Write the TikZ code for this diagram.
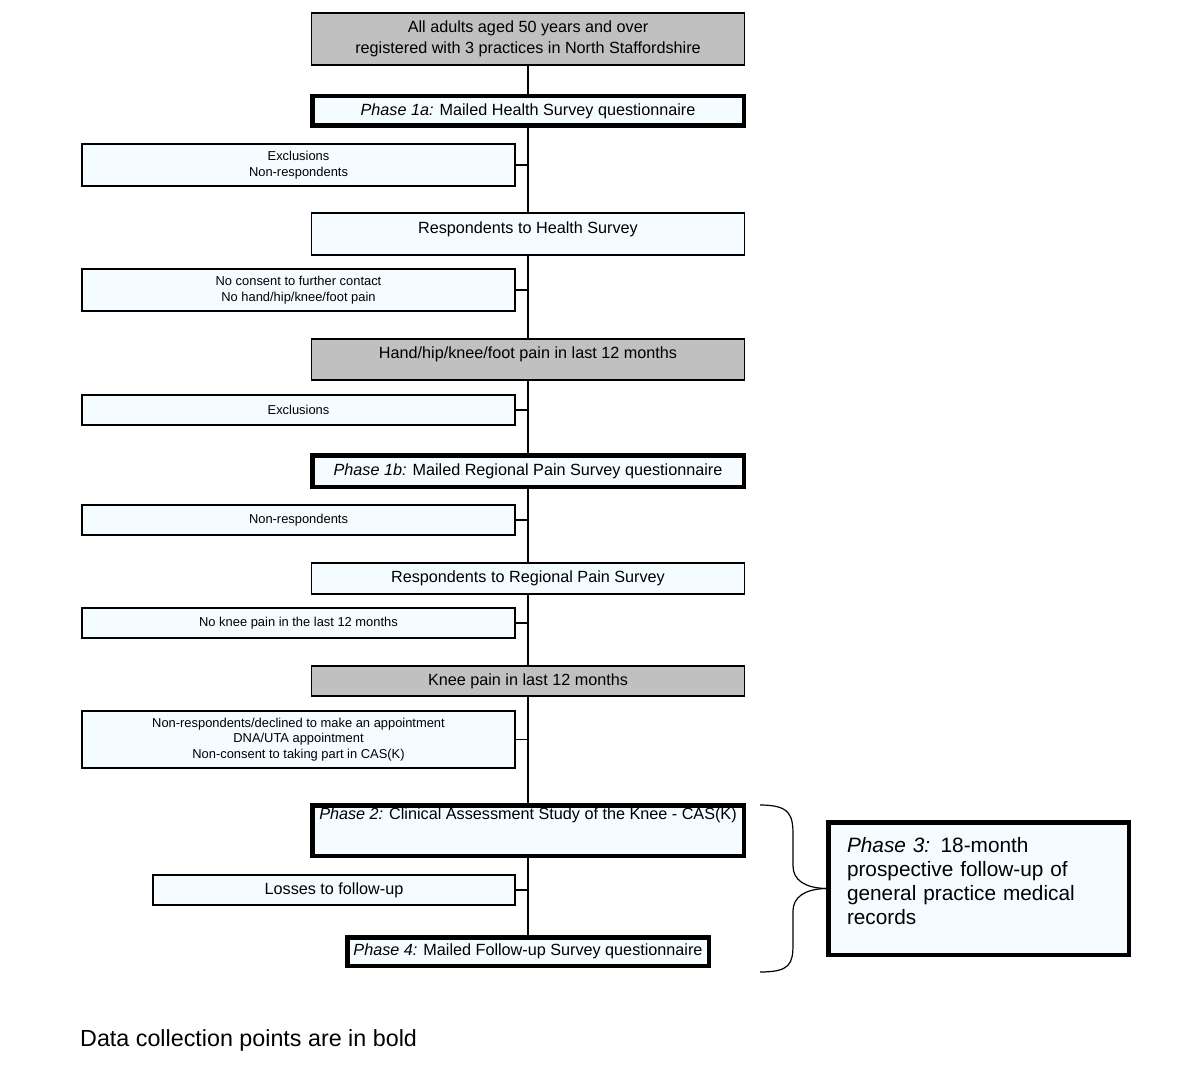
\documentclass[tikz,border=0pt]{standalone}
\usepackage{fontspec}
\setmainfont{Liberation Sans}
\usetikzlibrary{calc}
\definecolor{paleblue}{HTML}{F5FCFF}
\definecolor{midgrey}{HTML}{C0C0C0}
\tikzset{
	stage/.style={draw, line width=1.2pt, fill=paleblue, minimum width=433pt, minimum height=42pt, font=\fontsize{16.2}{21}\selectfont, align=center, inner sep=2pt},
	shaded/.style={stage, fill=midgrey},
	collect/.style={stage, line width=4.5pt, minimum width=431.5pt},
	drop/.style={draw, line width=1.2pt, fill=paleblue, minimum width=433pt, minimum height=30pt, font=\fontsize{12.9}{15.7}\selectfont, align=center, inner sep=2pt},
	lift/.style={text depth=#1},
	link/.style={line width=1.2pt},
}

\begin{document}
\begin{tikzpicture}[x=1pt, y=-1pt]
			%%%%% START %%%%%
			
			\useasboundingbox (0, 0) rectangle (1195, 1078);
			
			\node[shaded, minimum height=52pt] (all) at (528, 39) {All adults aged 50 years and over\\registered with 3 practices in North Staffordshire};
			\node[collect, minimum height=29.5pt] (ph1a) at (528, 111) {{\itshape Phase 1a:} Mailed Health Survey questionnaire};
			\node[drop, minimum height=42pt] (excl1) at (298.5, 165) {Exclusions\\Non-respondents};
			\node[stage, lift=12pt] (respHS) at (528, 234) {Respondents to Health Survey};
			\node[drop, minimum height=42pt] (nocons) at (298.5, 290) {No consent to further contact\\No hand/hip/knee/foot pain};
			\node[shaded, minimum height=41pt, lift=13pt] (pain) at (528, 359.5) {Hand/hip/knee/foot pain in last 12 months};
			\node[drop] (excl2) at (298.5, 410) {Exclusions};
			\node[collect, minimum height=31.5pt] (ph1b) at (528, 471) {{\itshape Phase 1b:} Mailed Regional Pain Survey questionnaire};
			\node[drop] (nonresp) at (298.5, 520) {Non-respondents};
			\node[stage, minimum height=31pt] (respRPS) at (528, 578.5) {Respondents to Regional Pain Survey};
			\node[drop] (noknee) at (298.5, 623) {No knee pain in the last 12 months};
			\node[shaded, minimum height=30pt] (knee) at (528, 681) {Knee pain in last 12 months};
			\node[drop, minimum height=57pt] (decl) at (298.5, 739.5) {Non-respondents/declined to make an appointment\\DNA/UTA appointment\\Non-consent to taking part in CAS(K)};
			\node[collect, minimum height=50.5pt, lift=33pt] (ph2) at (528, 830.5) {{\itshape Phase 2:} Clinical Assessment Study of the Knee - CAS(K)};
			\node[drop, minimum width=362pt, font=\fontsize{16.2}{21}\selectfont] (loss) at (334, 890) {Losses to follow-up};
			\node[collect, minimum width=361.5pt, minimum height=28.5pt] (ph4) at (528, 951.5) {{\itshape Phase 4:} Mailed Follow-up Survey questionnaire};
			
			\node[draw, line width=4.5pt, fill=paleblue, minimum width=300.5pt, minimum height=132.5pt, text width=263pt, align=left, font=\fontsize{20.8}{24}\selectfont, lift=87pt, inner sep=2pt] (ph3) at (978.5, 888.5) {{\itshape Phase 3:} 18-month\\prospective follow-up of\\general practice medical\\records};
			
			% main column
			\foreach \a/\b in {all/ph1a, ph1a/respHS, respHS/pain, pain/ph1b, ph1b/respRPS, respRPS/knee, knee/ph2, ph2/ph4}
				\draw[link] (\a) -- (\b);
			
			% drop-outs
			\foreach \s in {excl1, nocons, excl2, nonresp, noknee, decl, loss}
				\draw[link] (\s.east) -- (\s.east -| all.center);
			
			% brace
			\coordinate (btop) at (760, 805);
			\coordinate (bbot) at (760, 972);
			\draw[link] (btop) .. controls (790, 805) and (793, 815) .. (793, 835) -- (793, 866) .. controls (793, 880) and (805, 888) .. (ph3.west);
			\draw[link] (ph3.west) .. controls (805, 889) and (793, 897) .. (793, 911) -- (793, 944) .. controls (793, 964) and (790, 972) .. (bbot);
			
			\node[anchor=west, inner sep=0, font=\fontsize{23.3}{28}\selectfont] (note) at (80, 1040) {Data collection points are in bold};
			
			%%%%% END %%%%%
\end{tikzpicture}
\end{document}
